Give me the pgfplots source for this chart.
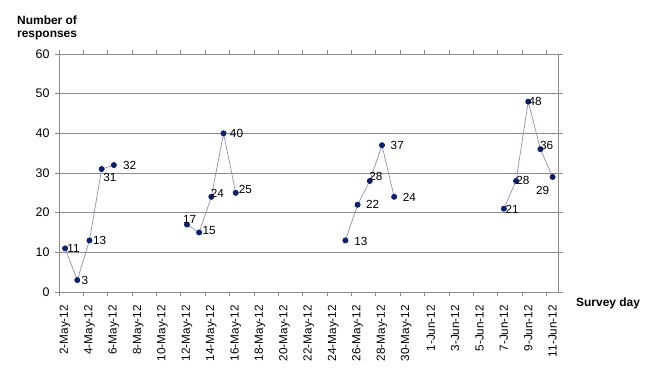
\documentclass[border=0pt]{standalone}
\usepackage{pgfplots}
\pgfplotsset{compat=1.18}
\usepackage{pgfplotstable}
\usepackage{fontspec}
\setmainfont{Liberation Sans}
\definecolor{gridgray}{HTML}{8C8C8C}
\definecolor{linecol}{HTML}{8A8FC0}
\definecolor{markcol}{HTML}{0A1F78}
% x = days since 2-May-12; dx, dy = label offset (bp)
\pgfplotstableread{
x y dx dy
0 11 8.5 0
1 3 7.7 0
2 13 10.2 0
3 31 8.3 -8.3
4 32 15.8 0
}\gA
\pgfplotstableread{
x y dx dy
10 17 2.7 5.6
11 15 10 1.8
12 24 6 3.5
13 40 13 0
14 25 9.7 3.5
}\gB
\pgfplotstableread{
x y dx dy
23 13 15.5 -0.6
24 22 15 0
25 28 6 4.9
26 37 15.3 0
27 24 15.2 -0.5
}\gC
\pgfplotstableread{
x y dx dy
36 21 8.2 -1
37 28 6.8 0.9
38 48 7 0
39 36 6.2 3.5
40 29 -9.9 -13.7
}\gD
\tikzset{dataline/.style={linecol, line width=0.7pt, mark=*, mark size=2.6bp, mark options={draw=markcol, fill=markcol}}}
\begin{document}
\begin{tikzpicture}
\useasboundingbox (-59bp,-80bp) rectangle (591bp,292bp);
\begin{axis}[
  scale only axis,
  width=499.7bp, height=238bp,
  xmin=-0.5, xmax=40.5,
  ymin=0, ymax=60,
  ytick={0,10,...,60},
  ymajorgrids,
  grid style={gridgray, line width=0.9pt},
  axis line style={gridgray, line width=0.9pt},
  /pgf/number format/assume math mode=true,
  xtick={0,2,...,40},
  xticklabels={\mbox{2-May-12},\mbox{4-May-12},\mbox{6-May-12},\mbox{8-May-12},\mbox{10-May-12},\mbox{12-May-12},\mbox{14-May-12},\mbox{16-May-12},\mbox{18-May-12},\mbox{20-May-12},\mbox{22-May-12},\mbox{24-May-12},\mbox{26-May-12},\mbox{28-May-12},\mbox{30-May-12},\mbox{1-Jun-12},\mbox{3-Jun-12},\mbox{5-Jun-12},\mbox{7-Jun-12},\mbox{9-Jun-12},\mbox{11-Jun-12}},
  xtick style={draw=none},
  extra x ticks={-0.5,1.5,...,39.5},
  extra x tick labels={},
  extra x tick style={xtick style={draw=gridgray, line width=0.9pt}, major tick length=4bp, tick align=outside},
  ytick style={gridgray, line width=0.9pt},
  major tick length=4bp,
  tick align=outside,
  xticklabel style={rotate=90, anchor=east, font=\fontsize{11.8}{12}\selectfont},
  yticklabel style={font=\fontsize{12.5}{13}\selectfont},
  xticklabel shift=5.5bp,
  yticklabel shift=2bp,
  clip=false,
  nodes near coords,
  point meta=explicit,
  visualization depends on={\thisrow{dx} \as \ldx},
  visualization depends on={\thisrow{dy} \as \ldy},
  every node near coord/.append style={anchor=center, xshift=\ldx bp, yshift=\ldy bp, font=\fontsize{11.8}{12}\selectfont, text=black, inner sep=0pt},
]
\addplot[dataline] table[x=x, y=y, meta=y] {\gA};
\addplot[dataline] table[x=x, y=y, meta=y] {\gB};
\addplot[dataline] table[x=x, y=y, meta=y] {\gC};
\addplot[dataline] table[x=x, y=y, meta=y] {\gD};
\end{axis}
\node[anchor=base west, font=\bfseries\fontsize{12}{14}\selectfont, inner sep=0pt] at (-42bp,267.7bp) {Number of};
\node[anchor=base west, font=\bfseries\fontsize{12}{14}\selectfont, inner sep=0pt] at (-42bp,254.7bp) {responses};
\node[anchor=base west, font=\bfseries\fontsize{12}{14}\selectfont, inner sep=0pt] at (517bp,-14bp) {Survey day};
\end{tikzpicture}
\end{document}
